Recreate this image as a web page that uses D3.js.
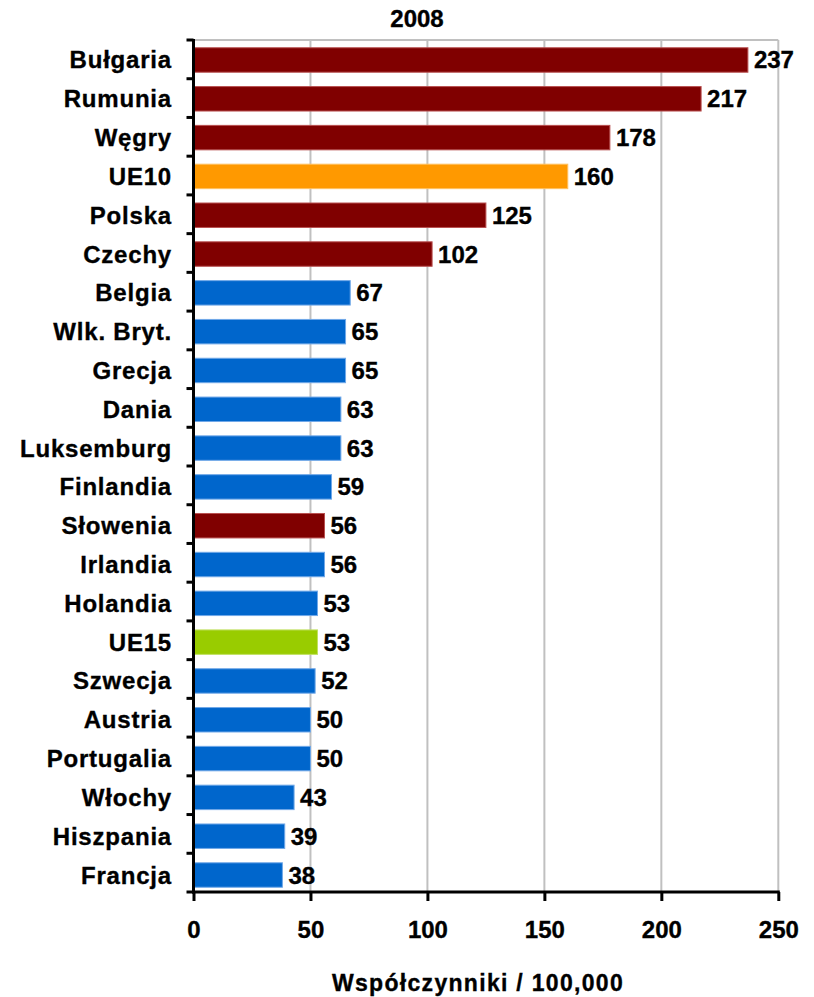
<!DOCTYPE html>
<html><head><meta charset="utf-8">
<script src="https://cdn.jsdelivr.net/npm/d3@7"></script>
<style>
body{margin:0;background:#fff;}
text{font-family:"Liberation Sans",Arial,sans-serif;font-weight:bold;fill:#000;stroke:#000;stroke-width:0.35px;}
</style></head><body>
<svg id="c" width="814" height="997"></svg>
<script>
const categories=["Bułgaria","Rumunia","Węgry","UE10","Polska","Czechy","Belgia","Wlk. Bryt.","Grecja","Dania","Luksemburg","Finlandia","Słowenia","Irlandia","Holandia","UE15","Szwecja","Austria","Portugalia","Włochy","Hiszpania","Francja"];
const values=[237,217,178,160,125,102,67,65,65,63,63,59,56,56,53,53,52,50,50,43,39,38];
const groups=["new","new","new","ue10","new","new","old","old","old","old","old","old","new","old","old","ue15","old","old","old","old","old","old"];
const xTicks=[0,50,100,150,200,250];
const title="2008";
const xTitle="Współczynniki / 100,000";

const fill={new:"#800000",ue10:"#FF9900",ue15:"#99CC00",old:"#0066CC"};
const edge={new:"#b85050",ue10:"#ffc060",ue15:"#c0e060",old:"#70a8e8"};

const svg=d3.select("#c");
const L=193.5,R=778.3,T=40,B=892;
const x=d3.scaleLinear().domain([0,250]).range([L,R]);
const y=d3.scaleBand().domain(categories).range([T,B+3]).paddingInner(0.37).paddingOuter(0.2);

// grid
svg.append("g").selectAll("line").data(xTicks.slice(1)).join("line")
 .attr("x1",d=>x(d)).attr("x2",d=>x(d)).attr("y1",T).attr("y2",B)
 .attr("stroke","#c0c0c0").attr("stroke-width",2);
svg.append("line").attr("x1",L).attr("x2",R).attr("y1",T).attr("y2",T)
 .attr("stroke","#c0c0c0").attr("stroke-width",2);

// bars
svg.append("g").selectAll("rect").data(values).join("rect")
 .attr("x",x(0)).attr("y",(d,i)=>y(categories[i]))
 .attr("width",d=>x(d)-x(0)).attr("height",y.bandwidth())
 .attr("fill",(d,i)=>fill[groups[i]])
 .attr("stroke",(d,i)=>edge[groups[i]]).attr("stroke-width",1);

// value labels
svg.append("g").selectAll("text").data(values).join("text")
 .attr("x",d=>x(d)+6).attr("y",(d,i)=>y(categories[i])+y.bandwidth()/2+8.5)
 .attr("font-size",24).text(d=>d);

// y axis
const bounds=d3.range(categories.length+1).map(i=>T+i*(B-T)/categories.length);
svg.append("line").attr("x1",L).attr("x2",L).attr("y1",T-1).attr("y2",B+1.5)
 .attr("stroke","#000").attr("stroke-width",3);
svg.append("g").selectAll("line").data(bounds).join("line")
 .attr("x1",L-7).attr("x2",L).attr("y1",d=>d).attr("y2",d=>d)
 .attr("stroke","#000").attr("stroke-width",3);
svg.append("g").selectAll("text").data(categories).join("text")
 .attr("x",172).attr("y",d=>y(d)+y.bandwidth()/2+8.5)
 .attr("text-anchor","end").attr("font-size",24).attr("letter-spacing",0.8).text(d=>d);

// x axis
const xAxis=d3.axisBottom(x).tickValues(xTicks).tickSize(9).tickPadding(20);
const gx=svg.append("g").attr("transform",`translate(0,${B})`).call(xAxis);
gx.select(".domain").attr("stroke","#000").attr("stroke-width",3).attr("d",`M${L-1.5},0H${R+1.5}`);
gx.selectAll(".tick line").attr("stroke","#000").attr("stroke-width",3);
gx.selectAll(".tick text").attr("font-size",24).attr("font-family","Liberation Sans, Arial, sans-serif").attr("font-weight","bold").attr("fill","#000").attr("stroke","#000").attr("stroke-width",0.35);

svg.append("text").attr("x",417).attr("y",27).attr("text-anchor","middle").attr("font-size",24).text(title);
svg.append("text").attr("x",478).attr("y",991).attr("text-anchor","middle").attr("font-size",23).attr("letter-spacing",1.3).text(xTitle);
</script></body></html>
